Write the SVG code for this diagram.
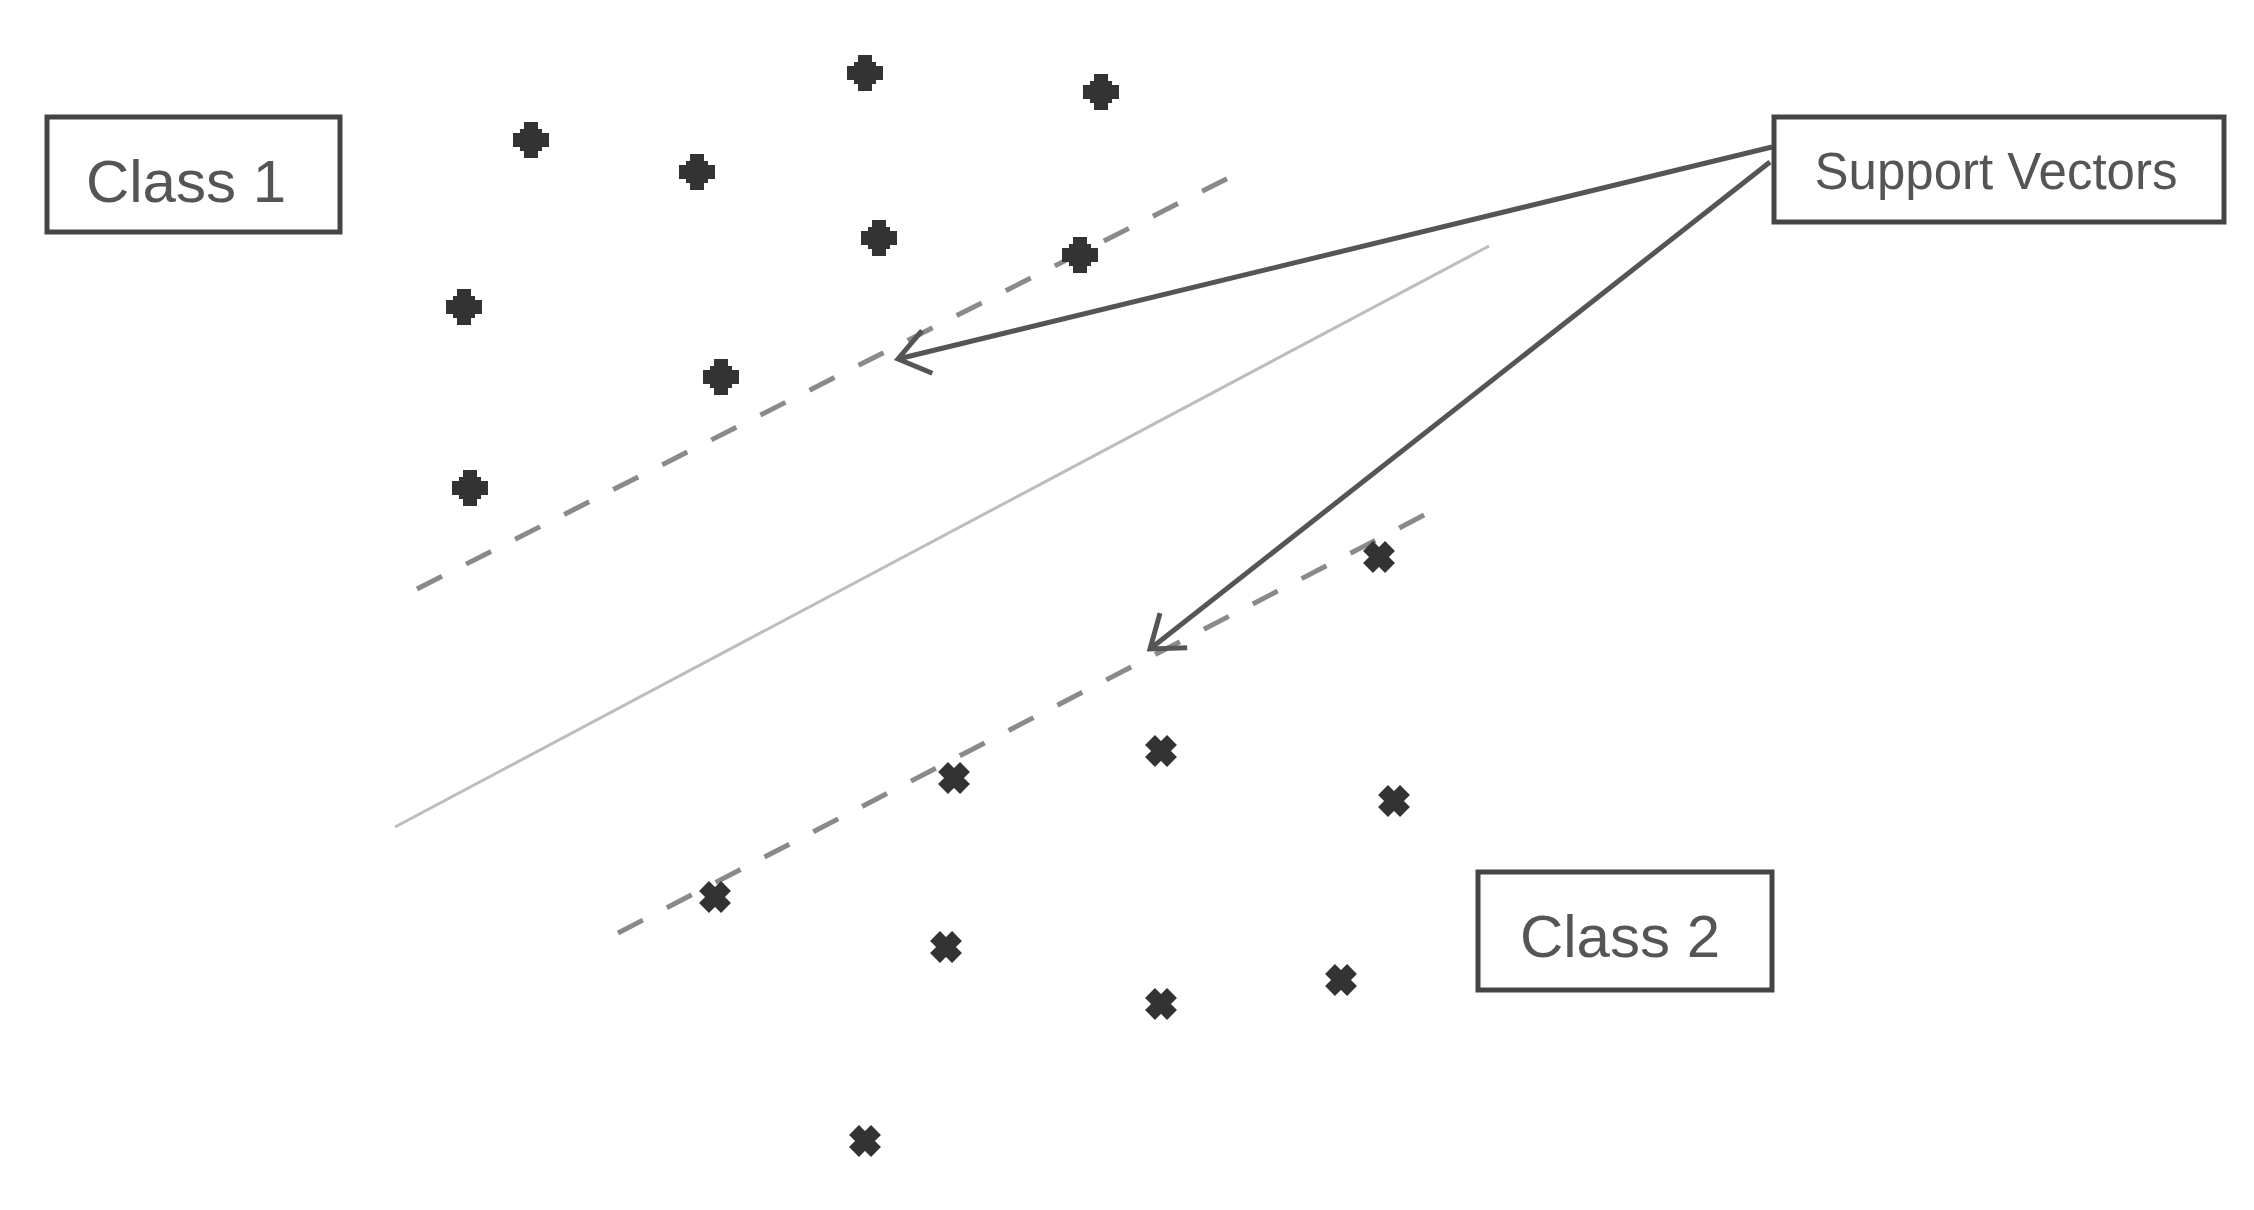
<svg xmlns="http://www.w3.org/2000/svg" xmlns:xlink="http://www.w3.org/1999/xlink" width="2254" height="1210" viewBox="0 0 2254 1210">
  <style>
    .box { fill: #ffffff; stroke: #444444; stroke-width: 5; }
    .label { font-family: "Liberation Sans", Arial, sans-serif; fill: #555555; text-anchor: middle; }
    .dash { stroke: #8a8a8a; stroke-width: 5; stroke-dasharray: 28 27; fill: none; }
    .hyper { stroke: #bdbdbd; stroke-width: 3; fill: none; }
    .arrow { stroke: #555555; stroke-width: 5; fill: none; marker-end: url(#open); }
    .p1 { fill: #333333; }
    .p2 { stroke: #333333; stroke-width: 14; fill: none; }
  </style>
  <defs>
    <marker id="open" markerUnits="userSpaceOnUse" markerWidth="60" markerHeight="60" refX="0" refY="0" viewBox="-40 -30 50 60" orient="auto" overflow="visible">
      <path d="M -30 -22 L 0 0 L -30 22" fill="none" stroke="#555555" stroke-width="5" stroke-linejoin="miter"/>
    </marker>
    <path id="plus" d="M -7 -18 H 7 V -11 H 11 V -7 H 18 V 7 H 11 V 11 H 7 V 18 H -7 V 11 H -11 V 7 H -18 V -7 H -11 V -11 H -7 Z"/>
    <path id="cross" d="M -11 -11 L 11 11 M -11 11 L 11 -11"/>
  </defs>
  <rect width="2254" height="1210" fill="#ffffff"/>

  <g id="lines">
    <line class="hyper" x1="395" y1="827" x2="1489" y2="246"/>
    <line class="dash" x1="417" y1="589" x2="1250" y2="167"/>
    <line class="dash" x1="618" y1="933" x2="1432" y2="511"/>
  </g>

  <g id="class1-points" class="p1">
    <use xlink:href="#plus" x="865" y="73"/>
    <use xlink:href="#plus" x="1101" y="92"/>
    <use xlink:href="#plus" x="531" y="140"/>
    <use xlink:href="#plus" x="697" y="172"/>
    <use xlink:href="#plus" x="879" y="238"/>
    <use xlink:href="#plus" x="1080" y="255"/>
    <use xlink:href="#plus" x="464" y="307"/>
    <use xlink:href="#plus" x="721" y="377"/>
    <use xlink:href="#plus" x="470" y="488"/>
  </g>

  <g id="class2-points" class="p2">
    <use xlink:href="#cross" x="1379" y="557"/>
    <use xlink:href="#cross" x="1161" y="751"/>
    <use xlink:href="#cross" x="954" y="778"/>
    <use xlink:href="#cross" x="1394" y="801"/>
    <use xlink:href="#cross" x="715" y="897"/>
    <use xlink:href="#cross" x="946" y="947"/>
    <use xlink:href="#cross" x="1341" y="980"/>
    <use xlink:href="#cross" x="1161" y="1004"/>
    <use xlink:href="#cross" x="865" y="1141"/>
  </g>

  <g id="connectors">
    <line class="arrow" x1="1772" y1="147" x2="898" y2="359"/>
    <line class="arrow" x1="1770" y1="162" x2="1150" y2="649"/>
  </g>

  <g id="class1">
    <rect class="box" x="47" y="117" width="293" height="115"/>
    <text class="label" x="186" y="202" font-size="60">Class 1</text>
  </g>

  <g id="support-vectors">
    <rect class="box" x="1774" y="117" width="450" height="105"/>
    <text class="label" x="1996" y="189" font-size="51">Support Vectors</text>
  </g>

  <g id="class2">
    <rect class="box" x="1478" y="872" width="294" height="118"/>
    <text class="label" x="1620" y="957" font-size="60">Class 2</text>
  </g>
</svg>
